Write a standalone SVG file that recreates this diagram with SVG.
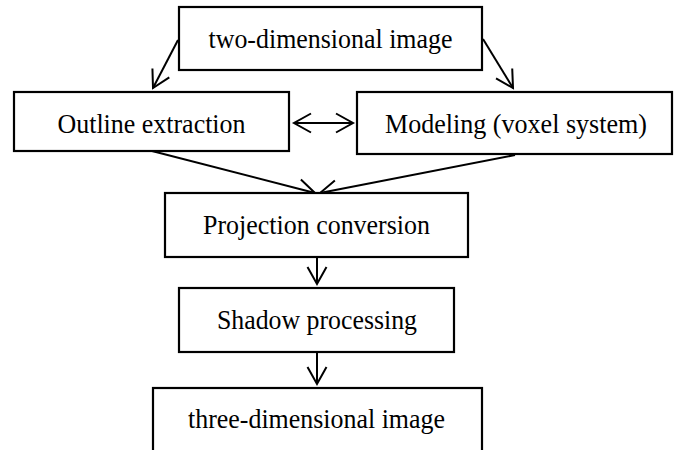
<svg xmlns="http://www.w3.org/2000/svg" width="681" height="450" viewBox="0 0 681 450">
<defs>
<marker id="ah" markerUnits="userSpaceOnUse" markerWidth="24" markerHeight="24" viewBox="-20 -12 24 24" refX="0" refY="0" orient="auto-start-reverse">
<path d="M-17,-9.5 L0,0 L-17,9.5" fill="none" stroke="#000" stroke-width="2"/>
</marker>
<style>
.box{fill:#fff;stroke:#000;stroke-width:2.2}
.lbl{font-family:"Liberation Serif","Times New Roman",serif;font-size:27px;fill:#000;text-anchor:middle}
.con{fill:none;stroke:#000;stroke-width:2;marker-end:url(#ah)}
</style>
</defs>
<rect width="681" height="450" fill="#fff"/>
<g id="connectors">
<line class="con" x1="178" y1="40" x2="153" y2="88"/>
<line class="con" x1="483" y1="39" x2="513" y2="88"/>
<line class="con" x1="294" y1="123" x2="353" y2="123" style="marker-start:url(#ah)"/>
<line class="con" x1="152" y1="151" x2="315" y2="193"/>
<line class="con" x1="515" y1="155" x2="320" y2="193"/>
<line class="con" x1="317" y1="257" x2="317" y2="284"/>
<line class="con" x1="317" y1="352" x2="317" y2="384"/>
</g>
<g id="node-2d">
<rect class="box" x="179" y="7" width="303" height="63"/>
<text class="lbl" x="330.5" y="48" textLength="244" lengthAdjust="spacingAndGlyphs">two-dimensional image</text>
</g>
<g id="node-outline">
<rect class="box" x="14" y="92" width="275" height="59"/>
<text class="lbl" x="151.5" y="133" textLength="188" lengthAdjust="spacingAndGlyphs">Outline extraction</text>
</g>
<g id="node-modeling">
<rect class="box" x="357" y="92" width="315" height="62"/>
<text class="lbl" x="516" y="133" textLength="262" lengthAdjust="spacingAndGlyphs">Modeling (voxel system)</text>
</g>
<g id="node-projection">
<rect class="box" x="165" y="193" width="303" height="64"/>
<text class="lbl" x="316.5" y="234" textLength="227" lengthAdjust="spacingAndGlyphs">Projection conversion</text>
</g>
<g id="node-shadow">
<rect class="box" x="179" y="288" width="275" height="64"/>
<text class="lbl" x="317" y="329" textLength="200" lengthAdjust="spacingAndGlyphs">Shadow processing</text>
</g>
<g id="node-3d">
<rect class="box" x="153" y="388" width="329" height="80"/>
<text class="lbl" x="316.5" y="428" textLength="257" lengthAdjust="spacingAndGlyphs">three-dimensional image</text>
</g>
</svg>
